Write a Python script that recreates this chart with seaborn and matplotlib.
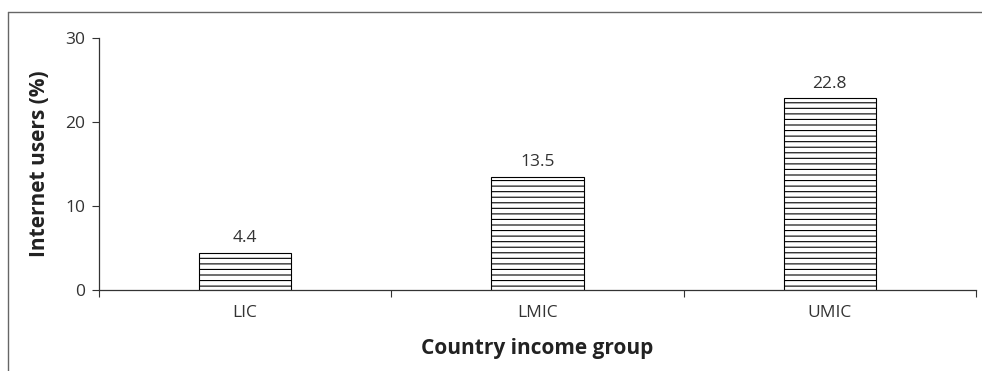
import matplotlib
matplotlib.use("Agg")
import matplotlib.pyplot as plt
import seaborn as sns
import pandas as pd
from matplotlib.lines import Line2D

# data
groups = ["LIC", "LMIC", "UMIC"]
users_pct = [4.4, 13.5, 22.8]
y_ticks = [0, 10, 20, 30]

df = pd.DataFrame({"group": groups, "users": users_pct})

sns.set_theme(style="white")
plt.rcParams["font.family"] = ["Open Sans", "DejaVu Sans"]
plt.rcParams["hatch.linewidth"] = 0.8
plt.rcParams["hatch.color"] = "black"

fig = plt.figure(figsize=(9.82, 3.71), dpi=100)
ax = fig.add_axes([0.1008, 0.2183, 0.8931, 0.6793])

sns.barplot(data=df, x="group", y="users", color="white", width=0.315,
            edgecolor="black", linewidth=0.8, ax=ax)
for p in ax.patches:
    p.set_hatch("---")
    p.set_facecolor("white")

ax.bar_label(ax.containers[0], fmt="%.1f", padding=5, fontsize=12.5, color="#333333")

ax.set_xlim(-0.5, 2.5)
ax.set_ylim(0, 30)
ax.set_yticks(y_ticks)
ax.set_xticks([0, 1, 2])
ax.set_xticklabels(groups, fontsize=12.5, color="#333333")
ax.tick_params(axis="y", labelsize=12.5, labelcolor="#333333", length=5, width=0.8,
               color="#333333", left=True, direction="out", pad=5)
ax.tick_params(axis="x", length=0, pad=11)
# category boundary ticks on the x axis
ax.set_xticks([-0.5, 0.5, 1.5, 2.5], minor=True)
ax.tick_params(axis="x", which="minor", length=5, width=0.8, color="#333333",
               bottom=True, direction="out")

for s in ["top", "right"]:
    ax.spines[s].set_visible(False)
for s in ["left", "bottom"]:
    ax.spines[s].set_color("#333333")
    ax.spines[s].set_linewidth(0.9)

ax.set_ylabel("Internet users (%)", fontsize=15, fontweight="bold", color="#222222", labelpad=11)
ax.set_xlabel("Country income group", fontsize=15, fontweight="bold", color="#222222", labelpad=12)

# partial frame around the figure (top and left only)
fig.add_artist(Line2D([8 / 982, 1.0], [1 - 12 / 371, 1 - 12 / 371],
                      transform=fig.transFigure, color="#666666", linewidth=1))
fig.add_artist(Line2D([8 / 982, 8 / 982], [0, 1 - 12 / 371],
                      transform=fig.transFigure, color="#666666", linewidth=1))

fig.savefig("out.png", dpi=100)
